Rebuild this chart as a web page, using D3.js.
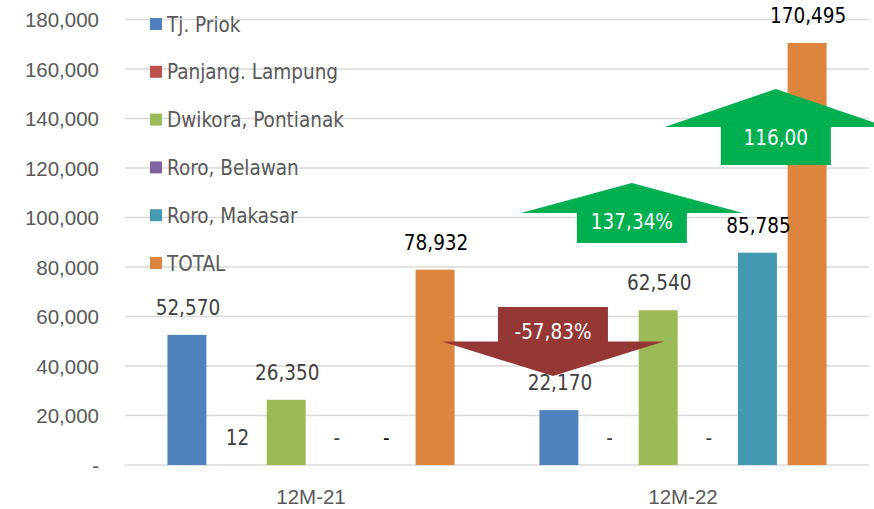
<!DOCTYPE html>
<html>
<head>
<meta charset="utf-8">
<script src="https://cdn.jsdelivr.net/npm/d3@7"></script>
<style>
  body { margin: 0; background: #fff; }
  svg { display: block; font-family: "Liberation Sans Narrow", "DejaVu Sans Condensed", sans-serif; }
</style>
</head>
<body>
<svg id="chart"></svg>
<script>
var width = 874;
var height = 509;

// data
var periods = ["12M-21", "12M-22"];
var seriesNames = ["Tj. Priok", "Panjang. Lampung", "Dwikora, Pontianak", "Roro, Belawan", "Roro, Makasar", "TOTAL"];
var seriesColors = ["#4F81BD", "#C0504D", "#9BBB59", "#8064A2", "#4599B1", "#DD843F"];
var labelColors = ["#404040", "#404040", "#404040", "#404040", "#000000", "#000000"];
var values21 = [52570, 12, 26350, 0, 0, 78932];
var values22 = [22170, 0, 62540, 0, 85785, 170495];
var yTicks = [0, 20000, 40000, 60000, 80000, 100000, 120000, 140000, 160000, 180000];

// change arrows: from = tail value, to = tip value, slot = position in bar slots from first bar
var arrowLabels = ["-57,83%", "137,34%", "116,00"];
var arrowPeriod = ["12M-22", "12M-22", "12M-22"];
var arrowSlot = [-0.12, 1.47, 4.37];
var arrowFrom = [63840, 89700, 121210];
var arrowTo = [35960, 113940, 151920];
var arrowColors = ["#953735", "#00B050", "#00B050"];

var margin = { left: 125, right: 5, top: 19.5, bottom: 44 };
var fontSize = "20.5px";

var svg = d3.select("#chart")
	.attr("width", width)
	.attr("height", height);

var x0 = d3.scaleBand()
	.domain(periods)
	.range([margin.left, width - margin.right]);

var x1 = d3.scaleBand()
	.domain(seriesNames)
	.range([0, x0.bandwidth()])
	.paddingInner(0.215)
	.paddingOuter(0.855);

var y = d3.scaleLinear()
	.domain([0, 180000])
	.range([height - margin.bottom, margin.top]);

var fmt = d3.format(",");
var tickFmt = function(v){ return v === 0 ? "-" : fmt(v); };

// gridlines
svg.append("g")
	.selectAll("line")
	.data(yTicks)
	.enter()
	.append("line")
	.attr("x1", margin.left)
	.attr("x2", width - margin.right)
	.attr("y1", function(d){ return y(d); })
	.attr("y2", function(d){ return y(d); })
	.style("stroke", "#D9D9D9")
	.style("stroke-width", 1.5);

// y axis labels
var yAxis = d3.axisLeft(y).tickValues(yTicks).tickFormat(tickFmt).tickSize(0).tickPadding(0);
var yg = svg.append("g")
	.attr("transform", "translate(99,0)")
	.call(yAxis);
yg.select(".domain").remove();
yg.selectAll("text")
	.attr("dy", "0.36em")
	.style("font-size", fontSize)
	.style("font-family", "inherit")
	.style("fill", "#595959");

// x axis labels
var xAxis = d3.axisBottom(x0).tickSize(0).tickPadding(0);
var xg = svg.append("g")
	.attr("transform", "translate(0,504)")
	.call(xAxis);
xg.select(".domain").remove();
xg.selectAll("text")
	.attr("y", 0)
	.attr("dy", 0)
	.style("font-size", fontSize)
	.style("font-family", "inherit")
	.style("fill", "#595959");

var rows = [];
periods.forEach(function(p, pi){
	var vals = pi === 0 ? values21 : values22;
	seriesNames.forEach(function(s, si){
		rows.push({ period: p, series: s, value: vals[si], i: si });
	});
});

// bars
svg.append("g")
	.selectAll("rect")
	.data(rows.filter(function(d){ return d.value > 0; }))
	.enter()
	.append("rect")
	.attr("x", function(d){ return x0(d.period) + x1(d.series); })
	.attr("y", function(d){ return y(d.value); })
	.attr("width", x1.bandwidth())
	.attr("height", function(d){ return y(0) - y(d.value); })
	.style("fill", function(d){ return seriesColors[d.i]; });

// arrows
var step = x1.step();
var bodyHalf = 55;
var headHalf = 111;
var arrows = arrowLabels.map(function(t, i){
	return { label: t, period: arrowPeriod[i], slot: arrowSlot[i], from: arrowFrom[i], to: arrowTo[i], color: arrowColors[i] };
});
var arrowX = function(d){ return x0(d.period) + x1(seriesNames[0]) + x1.bandwidth() / 2 + d.slot * step; };

var ag = svg.append("g")
	.selectAll("g")
	.data(arrows)
	.enter()
	.append("g");

ag.append("path")
	.attr("d", function(d){
		var cx = arrowX(d);
		var tail = y(d.from), tip = y(d.to);
		var base = (tail + tip) / 2;
		return "M" + (cx - bodyHalf) + "," + tail +
			"L" + (cx + bodyHalf) + "," + tail +
			"L" + (cx + bodyHalf) + "," + base +
			"L" + (cx + headHalf) + "," + base +
			"L" + cx + "," + tip +
			"L" + (cx - headHalf) + "," + base +
			"L" + (cx - bodyHalf) + "," + base + "Z";
	})
	.style("fill", function(d){ return d.color; });

ag.append("text")
	.attr("x", arrowX)
	.attr("y", function(d){
		var tail = y(d.from), tip = y(d.to);
		return (tail + tip) / 2 + (tail - tip) * 0.14 + 7.5;
	})
	.attr("text-anchor", "middle")
	.style("font-size", fontSize)
	.style("fill", "#fff")
	.text(function(d){ return d.label; });

// value labels
svg.append("g")
	.selectAll("text")
	.data(rows)
	.enter()
	.append("text")
	.attr("x", function(d){ return x0(d.period) + x1(d.series) + x1.bandwidth() / 2 + 1; })
	.attr("y", function(d){ return y(d.value) - 20; })
	.attr("text-anchor", "middle")
	.style("font-size", fontSize)
	.style("fill", function(d){ return labelColors[d.i]; })
	.text(function(d){ return d.value === 0 ? "-" : fmt(d.value); });

// legend
var lg = svg.append("g")
	.selectAll("g")
	.data(seriesNames)
	.enter()
	.append("g")
	.attr("transform", function(d, i){ return "translate(150," + (24 + i * 47.8) + ")"; });

lg.append("rect")
	.attr("x", 0)
	.attr("y", -6)
	.attr("width", 12)
	.attr("height", 12)
	.style("fill", function(d, i){ return seriesColors[i]; });

lg.append("text")
	.attr("x", 17)
	.attr("y", 7.5)
	.style("font-size", fontSize)
	.style("fill", "#595959")
	.text(function(d){ return d; });
</script>
</body>
</html>
